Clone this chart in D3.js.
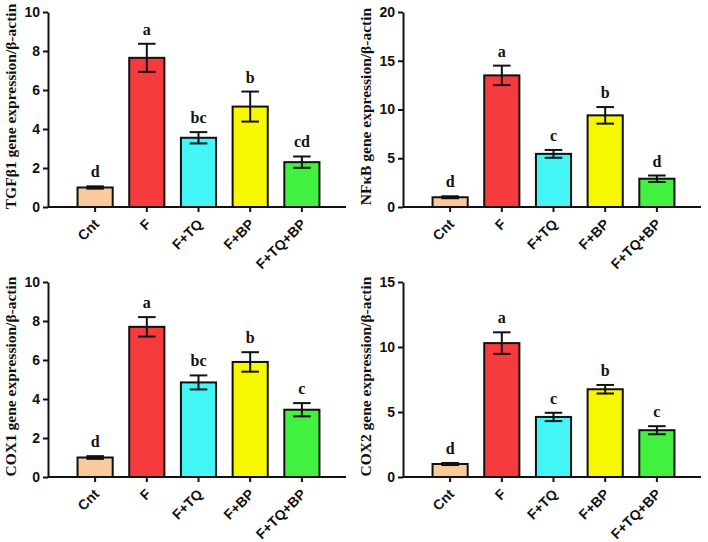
<!DOCTYPE html>
<html><head><meta charset="utf-8">
<script src="https://cdn.jsdelivr.net/npm/d3@7"></script>
<style>
html,body{margin:0;padding:0;background:#fff;}
svg{display:block;}
</style></head>
<body><svg id="chart" width="708" height="542"></svg>
<script>
const categories = ["Cnt", "F", "F+TQ", "F+BP", "F+TQ+BP"];
const barColors = ["#F9CB9C", "#F63B3E", "#42F6F6", "#F7F700", "#42F03F"];

const tgfTitle = "TGFβ1 gene expression/β-actin";
const tgfMeans = [1.0, 7.65, 3.55, 5.15, 2.3];
const tgfErr = [0.06, 0.72, 0.29, 0.77, 0.29];
const tgfLetters = ["d", "a", "bc", "b", "cd"];
const tgfTicks = [0, 2, 4, 6, 8, 10];

const nfkbTitle = "NFκB gene expression/β-actin";
const nfkbMeans = [1.0, 13.5, 5.45, 9.4, 2.9];
const nfkbErr = [0.1, 1.0, 0.4, 0.85, 0.33];
const nfkbLetters = ["d", "a", "c", "b", "d"];
const nfkbTicks = [0, 5, 10, 15, 20];

const cox1Title = "COX1 gene expression/β-actin";
const cox1Means = [1.0, 7.7, 4.85, 5.9, 3.45];
const cox1Err = [0.07, 0.5, 0.36, 0.5, 0.34];
const cox1Letters = ["d", "a", "bc", "b", "c"];
const cox1Ticks = [0, 2, 4, 6, 8, 10];

const cox2Title = "COX2 gene expression/β-actin";
const cox2Means = [1.0, 10.3, 4.62, 6.75, 3.6];
const cox2Err = [0.08, 0.83, 0.32, 0.33, 0.31];
const cox2Letters = ["d", "a", "c", "b", "c"];
const cox2Ticks = [0, 5, 10, 15];

const panels = [
  {title: tgfTitle, means: tgfMeans, err: tgfErr, letters: tgfLetters, ticks: tgfTicks, ox: 48, oy: 12},
  {title: nfkbTitle, means: nfkbMeans, err: nfkbErr, letters: nfkbLetters, ticks: nfkbTicks, ox: 403, oy: 12},
  {title: cox1Title, means: cox1Means, err: cox1Err, letters: cox1Letters, ticks: cox1Ticks, ox: 48, oy: 282},
  {title: cox2Title, means: cox2Means, err: cox2Err, letters: cox2Letters, ticks: cox2Ticks, ox: 403, oy: 282}
];

const svg = d3.select("#chart");
const plotH = 195, axisLen = 298;
const sans = "'Liberation Sans', Arial, sans-serif";
const serif = "'Liberation Serif', 'Times New Roman', serif";

panels.forEach(p => {
  const g = svg.append("g").attr("transform", `translate(${p.ox},${p.oy})`);
  const y = d3.scaleLinear().domain([0, d3.max(p.ticks)]).range([plotH, 0]);
  const x = d3.scaleBand().domain(categories).range([13, 288]).paddingInner(0.32).paddingOuter(0.32);

  // bars
  g.selectAll("rect.bar").data(categories).enter().append("rect")
    .attr("class", "bar")
    .attr("x", d => x(d))
    .attr("width", x.bandwidth())
    .attr("y", (d, i) => y(p.means[i]))
    .attr("height", (d, i) => plotH - y(p.means[i]))
    .attr("fill", (d, i) => barColors[i])
    .attr("stroke", "#111")
    .attr("stroke-width", 2);

  // error bars
  const capW = x.bandwidth() * 0.25;
  categories.forEach((c, i) => {
    const cx = x(c) + x.bandwidth() / 2;
    const hi = y(p.means[i] + p.err[i]), lo = y(p.means[i] - p.err[i]);
    g.append("line").attr("x1", cx).attr("x2", cx).attr("y1", hi).attr("y2", lo)
      .attr("stroke", "#111").attr("stroke-width", 2);
    [hi, lo].forEach(yy => g.append("line").attr("x1", cx - capW).attr("x2", cx + capW)
      .attr("y1", yy).attr("y2", yy).attr("stroke", "#111").attr("stroke-width", 2));
    g.append("text").attr("x", cx).attr("y", hi - 9)
      .attr("text-anchor", "middle")
      .attr("font-family", serif).attr("font-weight", "bold").attr("font-size", 16)
      .attr("fill", "#111")
      .text(p.letters[i]);
  });

  // y axis
  const ya = g.append("g").call(d3.axisLeft(y).tickValues(p.ticks).tickSize(5).tickPadding(3).tickSizeOuter(0));
  ya.select(".domain").attr("stroke", "#111").attr("stroke-width", 2);
  ya.selectAll(".tick line").attr("stroke", "#111").attr("stroke-width", 2);
  ya.selectAll(".tick text").attr("font-family", sans).attr("font-weight", "bold")
    .attr("font-size", 14).attr("fill", "#111");

  // x axis
  const xa = g.append("g").attr("transform", `translate(0,${plotH})`)
    .call(d3.axisBottom(x).tickSize(5).tickSizeOuter(0));
  xa.select(".domain").attr("d", `M0,0H${axisLen}`).attr("stroke", "#111").attr("stroke-width", 2);
  xa.selectAll(".tick line").attr("stroke", "#111").attr("stroke-width", 2);
  xa.selectAll(".tick text")
    .attr("font-family", sans).attr("font-weight", "bold").attr("font-size", 14).attr("fill", "#111")
    .attr("text-anchor", "end")
    .attr("dy", null).attr("y", 0)
    .attr("transform", "translate(5,18) rotate(-45)");

  // y title
  g.append("text")
    .attr("transform", `translate(-32,${plotH / 2 - 3}) rotate(-90)`)
    .attr("text-anchor", "middle")
    .attr("font-family", serif).attr("font-weight", "bold").attr("font-size", 15.5)
    .attr("fill", "#111")
    .text(p.title);
});
</script></body></html>
